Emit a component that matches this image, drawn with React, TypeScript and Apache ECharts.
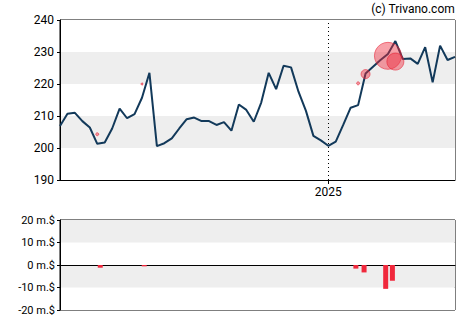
import React, { useEffect, useRef } from "react";
import * as echarts from "echarts";

const prices = [
  206.9, 210.7, 211.0, 208.4, 206.4, 201.3, 201.7, 206.1, 212.3, 209.3,
  210.6, 215.7, 223.5, 200.6, 201.5, 203.0, 206.1, 209.0, 209.5, 208.4,
  208.4, 207.2, 208.1, 205.4, 213.6, 211.9, 208.2, 214.2, 223.5, 218.4,
  225.7, 225.2, 217.6, 211.6, 203.8, 202.4, 200.7, 202.0, 207.2, 212.6,
  213.4, 223.3, 225.4, 227.5, 229.4, 233.4, 227.8, 228.0, 226.3, 231.5,
  220.5, 232.0, 227.5, 228.5,
];
const yearIndex = 36;
const yearLabel = "2025";
// insider trades: [week index, price, bubble size]
const tradeWeeks = [5, 11, 40, 41, 44, 45];
const tradePrices = [204.3, 220.0, 220.2, 223.1, 228.8, 227.0];
const tradeSizes = [3, 2, 3, 9, 27, 17];
// net volume bars (m.$)
const barWeeks = [5.4, 11.3, 39.7, 40.8, 43.7, 44.6];
const barValues = [-1.2, -0.6, -1.6, -3.3, -10.6, -7.0];
const priceTicks = { min: 190, max: 240, interval: 10 };
const volTicks = { min: -20, max: 20, interval: 10 };

export default function App() {
  const ref = useRef<HTMLDivElement>(null);
  useEffect(() => {
    if (!ref.current) return;
    const chart = echarts.init(ref.current, null, { renderer: "svg" });
    const font = "Roboto";
    const lastX = prices.length - 1;
    const xBase = (gridIndex: number, show: boolean) => ({
      type: "value" as const,
      gridIndex,
      min: 0,
      max: lastX,
      splitLine: { show: false },
      axisLine: { show: true, onZero: true, lineStyle: { color: "#000", width: 1 } },
      axisTick: {
        show,
        customValues: [yearIndex],
        length: 4,
        lineStyle: { color: "#000" },
      },
      axisLabel: {
        show,
        customValues: [yearIndex],
        formatter: () => yearLabel,
        color: "#000",
        fontFamily: font,
        fontSize: 12,
        margin: 6,
      },
    });
    chart.setOption({
      animation: false,
      title: {
        text: "(c) Trivano.com",
        right: 13,
        top: 1,
        padding: [2, 2, 2, 2],
        textStyle: { color: "#000", fontFamily: font, fontSize: 12, fontWeight: "normal" },
      },
      grid: [
        { left: 60, right: 15, top: 20, height: 160, show: true, borderColor: "#000", borderWidth: 1 },
        { left: 60, right: 15, top: 220, height: 90, show: true, borderColor: "#000", borderWidth: 1 },
      ],
      xAxis: [xBase(0, true), xBase(1, false)],
      yAxis: [
        {
          type: "value",
          gridIndex: 0,
          ...priceTicks,
          axisLine: { show: true, lineStyle: { color: "#000" } },
          axisTick: { show: true, length: 3, lineStyle: { color: "#000" } },
          axisLabel: { color: "#000", fontFamily: font, fontSize: 12, margin: 6 },
          splitLine: { show: false },
          splitArea: { show: true, areaStyle: { color: ["#ffffff", "#eeeeee"] } },
        },
        {
          type: "value",
          gridIndex: 1,
          ...volTicks,
          axisLine: { show: true, lineStyle: { color: "#000" } },
          axisTick: { show: true, length: 3, lineStyle: { color: "#000" } },
          axisLabel: {
            color: "#000",
            fontFamily: font,
            fontSize: 11,
            margin: 5,
            formatter: (v: number) => `${v} m.$`,
          },
          splitLine: { show: false },
          splitArea: { show: true, areaStyle: { color: ["#ffffff", "#eeeeee"] } },
        },
      ],
      series: [
        {
          type: "line",
          xAxisIndex: 0,
          yAxisIndex: 0,
          data: prices.map((p, i) => [i, p]),
          showSymbol: false,
          lineStyle: { color: "#12395a", width: 2 },
          z: 3,
          markLine: {
            silent: true,
            symbol: "none",
            label: { show: false },
            lineStyle: { color: "#000", type: [1, 3], width: 1 },
            data: [{ xAxis: yearIndex }],
          },
        },
        {
          type: "scatter",
          xAxisIndex: 0,
          yAxisIndex: 0,
          data: tradeWeeks.map((w, i) => [w, tradePrices[i], tradeSizes[i]]),
          symbolSize: (d: number[]) => d[2],
          itemStyle: {
            color: "rgba(240,40,60,0.55)",
            borderColor: "rgba(230,30,50,0.7)",
            borderWidth: 1,
          },
          z: 4,
        },
        {
          type: "bar",
          xAxisIndex: 1,
          yAxisIndex: 1,
          data: barWeeks.map((w, i) => [w, barValues[i]]),
          barWidth: 5,
          itemStyle: { color: "#f0283c" },
        },
      ],
    });
    return () => chart.dispose();
  }, []);
  return (
    <div
      ref={ref}
      style={{ width: 470, height: 325, position: "absolute", left: 0, top: 0 }}
    />
  );
}
